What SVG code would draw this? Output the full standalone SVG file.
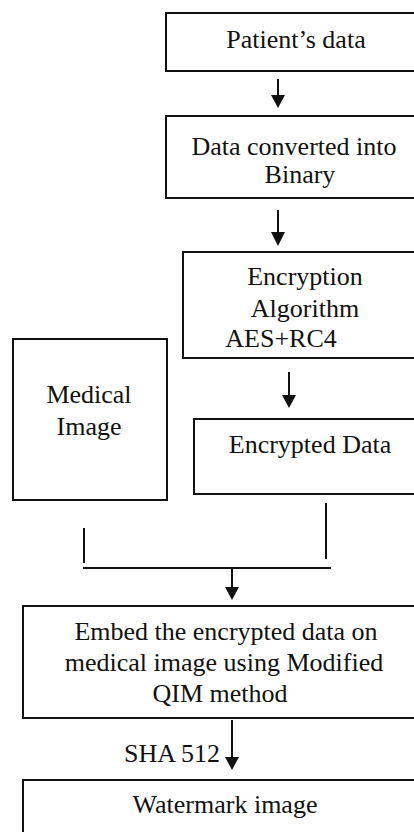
<svg xmlns="http://www.w3.org/2000/svg" width="414" height="832" viewBox="0 0 414 832">
<style>
.box{fill:#fff;stroke:#111;stroke-width:2}
.t{font-family:"Liberation Serif","Times New Roman",serif;font-size:26px;fill:#111;text-anchor:middle}
.c{stroke:#111;stroke-width:2;fill:none}
</style>
<defs>
<marker id="ah" markerUnits="userSpaceOnUse" markerWidth="14" markerHeight="14" viewBox="0 0 14 14" refX="7" refY="13" orient="auto-start-reverse">
<path d="M0,0 L14,0 L7,13 Z" fill="#111" transform="rotate(-90 7 7)"/>
</marker>
</defs>
<rect width="414" height="832" fill="#fff"/>
<g id="patient"><rect class="box" x="166" y="13" width="260" height="58"/><text class="t" x="296" y="48">Patient’s data</text></g>
<g id="binary"><rect class="box" x="166" y="116" width="260" height="82"/><text class="t" x="294" y="155">Data converted into</text><text class="t" x="300" y="183">Binary</text></g>
<g id="encryption"><rect class="box" x="183" y="252" width="260" height="106"/><text class="t" x="305" y="285">Encryption</text><text class="t" x="305" y="317">Algorithm</text><text class="t" x="281" y="347">AES+RC4</text></g>
<g id="medical"><rect class="box" x="13" y="339" width="154" height="161"/><text class="t" x="89" y="403">Medical</text><text class="t" x="89" y="435">Image</text></g>
<g id="encrypted"><rect class="box" x="194" y="419" width="240" height="75"/><text class="t" x="310" y="453">Encrypted Data</text></g>
<g id="embed"><rect class="box" x="23" y="606" width="410" height="112"/><text class="t" x="226" y="640">Embed the encrypted data on</text><text class="t" x="224" y="671">medical image using Modified</text><text class="t" x="220" y="702">QIM method</text></g>
<g id="watermark"><rect class="box" x="23" y="780" width="410" height="70"/><text class="t" x="225" y="813">Watermark image</text></g>
<g id="connectors">
<path class="c" d="M278,79 V95"/><path d="M271,95 H285 L278,108 Z" fill="#111"/>
<path class="c" d="M278,210 V232"/><path d="M271,232 H285 L278,246 Z" fill="#111"/>
<path class="c" d="M289,372 V395"/><path d="M282,395 H296 L289,408 Z" fill="#111"/>
<path class="c" d="M84,528 V563 M326,503 V559 M83,568 H331"/>
<path class="c" d="M232,568 V587"/><path d="M225,587 H239 L232,600 Z" fill="#111"/>
<path class="c" d="M232,720 V757"/><path d="M225,757 H239 L232,770 Z" fill="#111"/>
<text class="t" x="172" y="762">SHA 512</text>
</g>
</svg>
